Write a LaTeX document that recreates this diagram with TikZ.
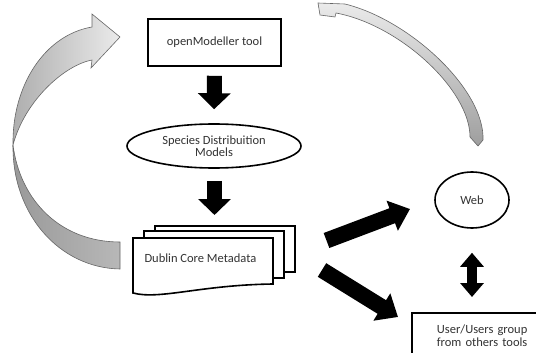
\documentclass[tikz,border=0pt]{standalone}
\usepackage{fontspec}
\setmainfont{Carlito}
\usetikzlibrary{arrows.meta,shapes.geometric}
\begin{document}
\begin{tikzpicture}[x=1pt,y=-1pt,
  every node/.style={font=\fontsize{12.5}{14}\selectfont, text=black!80},
  frame/.style={draw=black, line width=1.6pt, fill=white},
  oval/.style={ellipse, draw=black, line width=1.6pt, inner sep=0pt},
  docpage/.style={draw=black, line width=1.6pt, fill=white},
  bigarrow/.style={line width=15pt, -{Triangle[width=32pt,length=16pt]}},
  slantarrow/.style={line width=16pt, -{Triangle[width=31pt,length=19pt]}},
  twoway/.style={line width=10pt, {Triangle[width=23pt,length=14pt]}-{Triangle[width=23pt,length=14pt]}},
  ribbon/.style={draw=black!60, line width=0.6pt}]
\useasboundingbox (0,0) rectangle (536,353);

% curved grey arrow on the left (twisted ribbon)
\shade[ribbon, left color=black!40, right color=black!28]
  (13,145) .. controls (12,215) and (60,268) .. (120,269) -- (120,242)
  .. controls (60,242) and (20,200) .. (13,145) -- cycle;
\shade[ribbon, left color=black!32, right color=black!8]
  (13,145) .. controls (12,85) and (45,35) .. (92,27) -- (92,14) -- (120,37)
  -- (91,68) -- (92,60) .. controls (65,65) and (25,100) .. (13,145) -- cycle;

% curved grey arrow on the right
\shade[ribbon, top color=black!8, bottom color=black!38]
  (318,3) -- (320,15) -- (335,17) -- (336,13)
  .. controls (400,25) and (470,90) .. (470,137) -- (478,146) -- (483,140)
  .. controls (485,90) and (410,20) .. (345,4) -- cycle;

% nodes
\node[frame, minimum width=133pt, minimum height=47pt] (om) at (214.5,42.5) {openModeller tool};
\node[oval, minimum width=174pt, minimum height=44pt, align=center] (sdm) at (214,146)
  {Species Distribuition\\[-2pt]Models};
\node[oval, minimum width=74pt, minimum height=56pt] (web) at (472,200) {Web};
\node[frame, anchor=north west, minimum width=140pt, minimum height=46pt, align=center,
  text width=134pt] (user) at (411,312) {User/Users group\\[-1pt]from others tools};

% multi-document
\draw[docpage] (155,226) rectangle (295,272);
\draw[docpage] (144,231) rectangle (284,278);
\draw[docpage] (133,238) -- (273,238) -- (273,284)
  .. controls (200,285) and (160,300) .. (133,293) -- cycle;
\node[anchor=west] (dcm) at (141,258) {Dublin Core Metadata};
\coordinate (dtop) at (214.5,238);
\coordinate (dw) at (326.5,240.5);
\coordinate (du) at (322,270);
\coordinate (hw) at (410,209);
\coordinate (hu) at (398,317);

% black block arrows
\draw[bigarrow, shorten <=9pt, shorten >=14pt] (om.south) -- (sdm.north);
\draw[bigarrow, shorten <=12pt, shorten >=23pt] (sdm.south -| dtop) -- (dtop);
\draw[slantarrow] (dw) -- (hw);
\draw[slantarrow] (du) -- (hu);
\draw[twoway, shorten <=24pt, shorten >=15pt] (web.south) -- (user.north -| web.south);
\end{tikzpicture}
\end{document}
